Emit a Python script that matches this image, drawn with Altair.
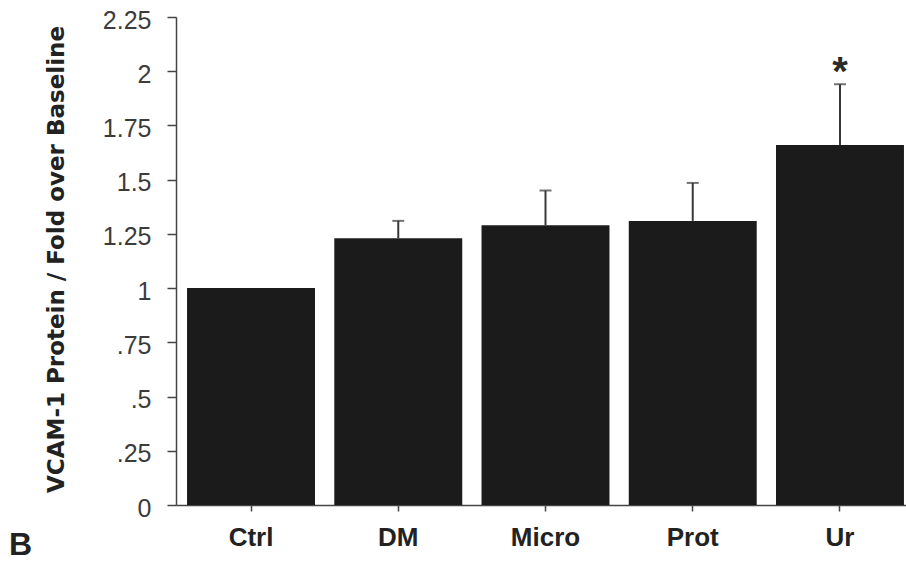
import altair as alt
import pandas as pd

# Group labels, mean fold change over baseline and upper error (SEM)
groups = ["Ctrl", "DM", "Micro", "Prot", "Ur"]
fold_change = [1.00, 1.23, 1.29, 1.31, 1.66]
sem = [0.0, 0.08, 0.16, 0.175, 0.28]
significance = ["", "", "", "", "*"]
y_ticks = [0, 0.25, 0.5, 0.75, 1, 1.25, 1.5, 1.75, 2, 2.25]

df = pd.DataFrame({"group": groups, "value": fold_change, "err": sem, "sig": significance})
df["upper"] = df["value"] + df["err"]

FONT = "Liberation Sans"
TITLE_FONT = "DejaVu Sans"
AXIS_COLOR = "#444444"

x_scale = alt.Scale(domain=groups, range=[0, 739], paddingInner=0.131, paddingOuter=0.075)
y_scale = alt.Scale(domain=[0, 2.25], nice=False, zero=True)

x_axis = alt.Axis(
    title=None, labelAngle=0, labelFont=FONT, labelFontSize=26, labelFontWeight="bold",
    labelColor="#222222", tickSize=6, tickColor=AXIS_COLOR, tickWidth=1.5,
    domainColor=AXIS_COLOR, domainWidth=1.5, labelPadding=13,
)
y_axis = alt.Axis(
    title="VCAM-1 Protein / Fold over Baseline", values=y_ticks, grid=False,
    labelExpr="datum.value > 0 && datum.value < 1 ? slice(format(datum.value, '.2~f'), 1) : format(datum.value, '.2~f')",
    labelFont=FONT, labelFontSize=25, labelColor="#3c3c3c", labelPadding=16, labelOffset=3,
    labelOverlap=False, labelFlush=False, labelBound=False,
    tickSize=9, tickColor=AXIS_COLOR, tickWidth=1.5,
    domainColor=AXIS_COLOR, domainWidth=1.5,
    titleFont=TITLE_FONT, titleFontSize=23, titleFontWeight="bold", titleColor="#222222",
    titleX=-113, titleY=242, titleBaseline="alphabetic", titleAlign="center", titleAngle=270,
)

base = alt.Chart(df)
x_enc = alt.X("group:N", sort=groups, scale=x_scale, axis=x_axis)

bars = base.mark_bar(color="#1b1b1b").encode(
    x=x_enc,
    y=alt.Y("value:Q", scale=y_scale, axis=y_axis),
)

with_err = base.transform_filter("datum.err > 0")

err_line = with_err.mark_rule(color="#383838", strokeWidth=2).encode(
    x=x_enc,
    y=alt.Y("value:Q", scale=y_scale, axis=y_axis),
    y2="upper:Q",
)

err_cap = with_err.mark_tick(color="#383838", thickness=2, size=12, orient="horizontal").encode(
    x=x_enc,
    y=alt.Y("upper:Q", scale=y_scale, axis=y_axis),
)

stars = base.transform_filter("datum.sig != ''").mark_text(
    font=FONT, fontSize=40, fontWeight="bold", color="#2a2a2a", baseline="alphabetic", dy=1,
).encode(
    x=x_enc,
    y=alt.Y("upper:Q", scale=y_scale, axis=y_axis),
    text="sig:N",
)

panel_label = alt.Chart(pd.DataFrame({"t": ["B"]})).mark_text(
    font=FONT, fontSize=32, fontWeight="bold", color="#222222", align="left", baseline="middle",
).encode(x=alt.value(-167), y=alt.value(528), text="t:N")

chart = alt.layer(bars, err_line, err_cap, stars, panel_label).properties(
    width=730, height=488,
    autosize=alt.AutoSizeParams(type="none"),
    padding={"left": 176, "top": 17, "right": 0, "bottom": 61},
    background="white",
).configure_view(stroke=None)

chart.save("out.html", embed_options={"renderer": "svg", "actions": False})
